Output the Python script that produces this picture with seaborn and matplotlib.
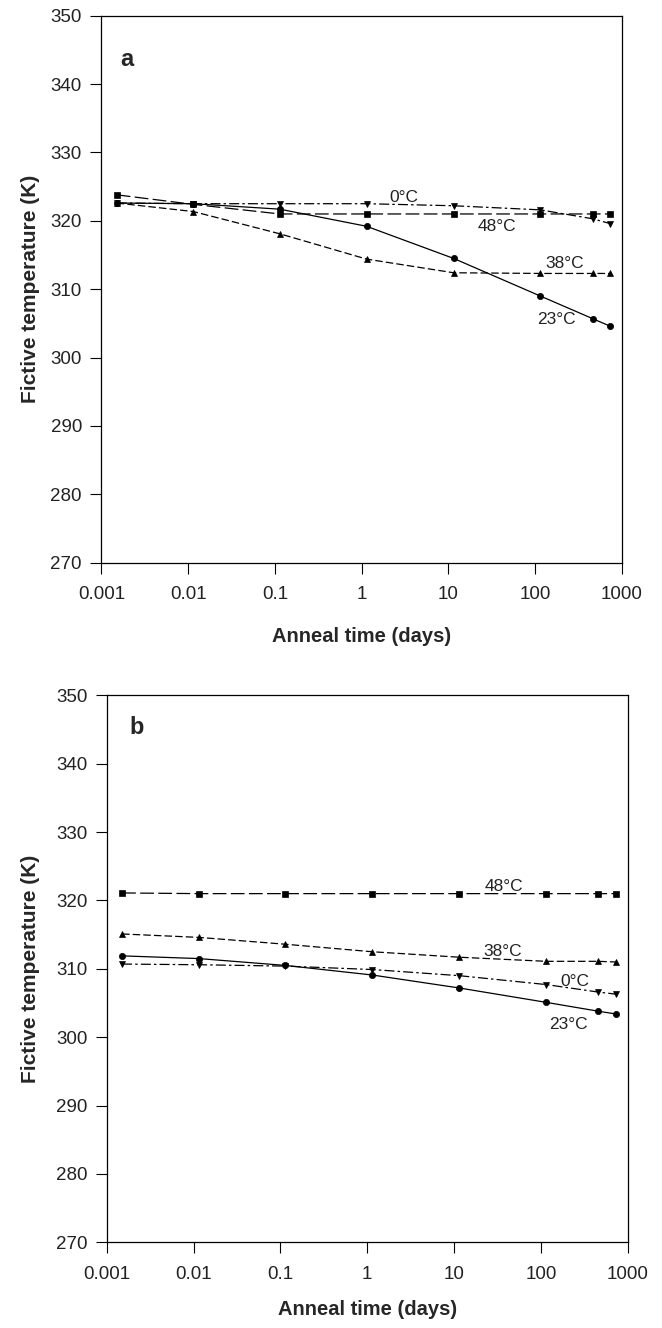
import matplotlib
matplotlib.use("Agg")
import matplotlib.pyplot as plt
import matplotlib.ticker as mticker
import numpy as np
import pandas as pd
import seaborn as sns

# Anneal times (days) shared by every series
anneal_days = [0.0015, 0.0115, 0.114, 1.14, 11.5, 115, 460, 730]
series_names = ["0°C", "23°C", "38°C", "48°C"]

# Panel a: fictive temperature (K)
a_0C = [322.6, 322.5, 322.5, 322.5, 322.2, 321.6, 320.3, 319.6]
a_23C = [322.6, 322.5, 321.7, 319.2, 314.5, 309.0, 305.7, 304.6]
a_38C = [322.6, 321.35, 318.1, 314.4, 312.4, 312.3, 312.3, 312.3]
a_48C = [323.8, 322.4, 321.0, 321.0, 321.0, 321.0, 321.0, 321.0]

# Panel b: fictive temperature (K)
b_0C = [310.7, 310.6, 310.4, 309.9, 309.0, 307.7, 306.6, 306.3]
b_23C = [311.9, 311.5, 310.5, 309.1, 307.2, 305.1, 303.8, 303.4]
b_38C = [315.1, 314.6, 313.6, 312.5, 311.7, 311.1, 311.1, 311.0]
b_48C = [321.1, 321.0, 321.0, 321.0, 321.0, 321.0, 321.0, 321.0]

x_ticks = [0.001, 0.01, 0.1, 1, 10, 100, 1000]
x_tick_labels = ["0.001", "0.01", "0.1", "1", "10", "100", "1000"]
y_ticks = [270, 280, 290, 300, 310, 320, 330, 340, 350]

# Curve label anchors (data coordinates)
a_label_pos = {"0°C": (3.1, 323.45), "48°C": (36, 319.15),
               "38°C": (217, 313.8), "23°C": (175, 305.5)}
b_label_pos = {"48°C": (37.5, 322.0), "38°C": (36.5, 312.6),
               "0°C": (248, 308.2), "23°C": (206, 301.9)}

sns.set_style("ticks")
plt.rcParams["font.family"] = ["Liberation Sans", "DejaVu Sans"]


def long_table(values):
    frames = []
    for name, vals in zip(series_names, values):
        frames.append(pd.DataFrame({"time": anneal_days, "tf": vals, "series": name}))
    return pd.concat(frames, ignore_index=True)


markers = {"0°C": "v", "23°C": "o", "38°C": "^", "48°C": "s"}
dashes = {"0°C": (8, 2.5, 2, 2.5), "23°C": "", "38°C": (6, 2.5), "48°C": (11, 3.5)}

fig = plt.figure(figsize=(6.62, 13.28), dpi=100)
ax_a = fig.add_axes([0.1532, 0.5763, 0.786, 0.4119])
ax_b = fig.add_axes([0.1613, 0.0645, 0.7869, 0.4119])

# (axes, data, label anchors, panel tag, tag position, xlabel pad, ylabel x in axes fraction)
panels = [
    (ax_a, long_table([a_0C, a_23C, a_38C, a_48C]), a_label_pos, "a", (0.048, 0.920), 17, -0.118),
    (ax_b, long_table([b_0C, b_23C, b_38C, b_48C]), b_label_pos, "b", (0.057, 0.9415), 12.5, -0.128),
]

for ax, df, label_pos, tag, tag_xy, xpad, ylab_x in panels:
    ax.set_xscale("log")
    sns.lineplot(data=df, x="time", y="tf", style="series", markers=markers,
                 dashes=dashes, color="black", linewidth=0.9, markersize=4.5,
                 markeredgecolor="black", markeredgewidth=0.5,
                 legend=False, ax=ax, sort=False)
    ax.set_xlim(0.001, 1000)
    ax.set_ylim(270, 350)
    ax.set_xticks(x_ticks)
    ax.set_xticklabels(x_tick_labels)
    ax.xaxis.set_minor_locator(mticker.NullLocator())
    ax.set_yticks(y_ticks)
    ax.tick_params(axis="both", direction="out", length=8, width=0.8,
                   color="black", labelsize=13.5, labelcolor="#222222")
    ax.tick_params(axis="x", pad=9)
    ax.tick_params(axis="y", pad=6)
    for sp in ax.spines.values():
        sp.set_visible(True)
        sp.set_color("black")
        sp.set_linewidth(0.9)
    ax.set_xlabel("Anneal time (days)", fontsize=14.5, fontweight="bold", labelpad=xpad)
    ax.set_ylabel("Fictive temperature (K)", fontsize=15, fontweight="bold")
    ax.yaxis.set_label_coords(ylab_x, 0.5)
    for name, (tx, ty) in label_pos.items():
        ax.text(tx, ty, name, fontsize=12.5, ha="center", va="center", color="#222222")
    ax.text(tag_xy[0], tag_xy[1], tag, transform=ax.transAxes, fontsize=17,
            fontweight="bold", ha="center", va="center")

fig.savefig("out.png", dpi=100, facecolor="white")
